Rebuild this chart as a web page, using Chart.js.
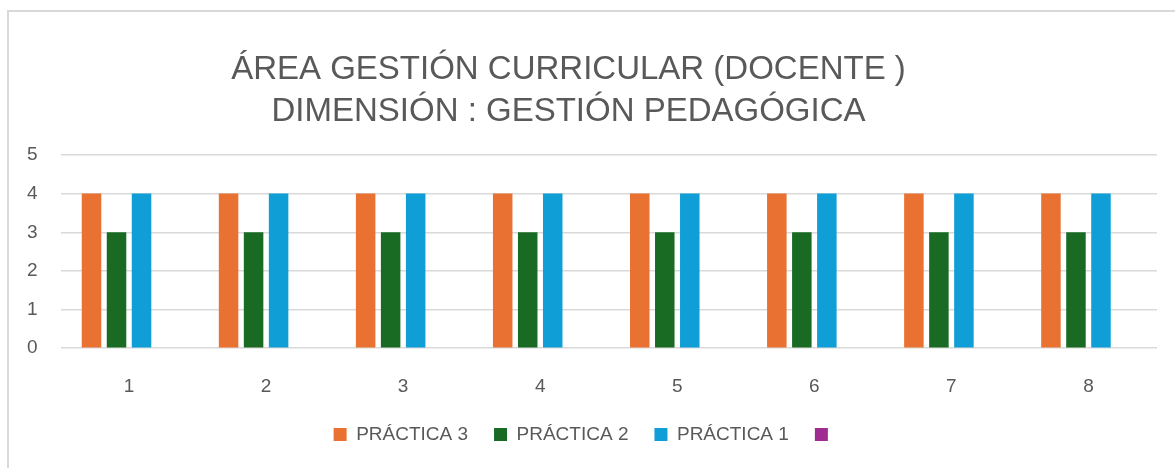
<!DOCTYPE html>
<html lang="es">
<head>
    <meta charset="UTF-8">
    <title>Área Gestión Curricular</title>
    <script src="https://cdn.jsdelivr.net/npm/chart.js"></script>
    <style>
        body {
            margin: 0;
            background: #fff;
            font-family: 'Liberation Sans', Arial, sans-serif;
        }
        .wrap {
            position: relative;
            width: 1175px;
            height: 468px;
            overflow: hidden;
        }
        .frame {
            position: absolute;
            left: 7px;
            top: 10px;
            width: 1300px;
            height: 600px;
            border-left: 2px solid #d9d9d9;
            border-top: 2px solid #d9d9d9;
        }
        canvas {
            position: absolute;
            left: 0;
            top: 0;
        }
    </style>
</head>
<body>
    <div class="wrap">
        <div class="frame"></div>
        <canvas id="chart" width="1175" height="468"></canvas>
    </div>

    <script>
        const categories = ['1', '2', '3', '4', '5', '6', '7', '8'];
        const practica3 = [4, 4, 4, 4, 4, 4, 4, 4];
        const practica2 = [3, 3, 3, 3, 3, 3, 3, 3];
        const practica1 = [4, 4, 4, 4, 4, 4, 4, 4];
        const serieVacia = [null, null, null, null, null, null, null, null];
        const titleLines = ['ÁREA GESTIÓN CURRICULAR (DOCENTE )', 'DIMENSIÓN : GESTIÓN PEDAGÓGICA'];

        const textColor = '#595959';
        const gridColor = '#d9d9d9';
        const font = "'Liberation Sans', Arial, sans-serif";

        function serie(label, data, color) {
            return {
                label: label,
                data: data,
                backgroundColor: color,
                borderWidth: 0,
                categoryPercentage: 0.73,
                barPercentage: 0.78
            };
        }

        // title sits a bit left of centre, legend a bit right and closer to the axis
        const nudge = {
            id: 'nudge',
            afterLayout(chart) {
                chart.titleBlock.left -= 10;
                chart.titleBlock.right -= 10;
                chart.legend.left += 7;
                chart.legend.right += 7;
                chart.legend.top -= 26;
                chart.legend.bottom -= 26;
            }
        };

        new Chart(document.getElementById('chart'), {
            type: 'bar',
            data: {
                labels: categories,
                datasets: [
                    serie('PRÁCTICA 3', practica3, '#E97132'),
                    serie('PRÁCTICA 2', practica2, '#196B24'),
                    serie('PRÁCTICA 1', practica1, '#0F9ED5'),
                    serie('', serieVacia, '#A02B93')
                ]
            },
            plugins: [nudge],
            options: {
                responsive: false,
                animation: false,
                layout: {
                    padding: { left: 0, right: 18, top: 0, bottom: -12 }
                },
                scales: {
                    x: {
                        grid: { display: false, drawTicks: false },
                        border: { display: false },
                        ticks: {
                            color: textColor,
                            font: { family: font, size: 19 },
                            padding: 27
                        }
                    },
                    y: {
                        min: 0,
                        max: 5,
                        afterFit: function (scale) { scale.width = 60.5; },
                        grid: { color: gridColor, lineWidth: 1.5, drawTicks: false },
                        border: { display: false },
                        ticks: {
                            stepSize: 1,
                            color: textColor,
                            font: { family: font, size: 19 },
                            padding: 23
                        }
                    }
                },
                plugins: {
                    title: {
                        display: true,
                        text: titleLines,
                        color: textColor,
                        font: { family: font, size: 33, weight: 'normal', lineHeight: 1.28 },
                        padding: { top: 49, bottom: 21.5 }
                    },
                    legend: {
                        position: 'bottom',
                        labels: {
                            color: textColor,
                            font: { family: font, size: 19 },
                            boxWidth: 13,
                            boxHeight: 13,
                            padding: 26
                        }
                    },
                    tooltip: { enabled: false }
                }
            }
        });
    </script>
</body>
</html>
